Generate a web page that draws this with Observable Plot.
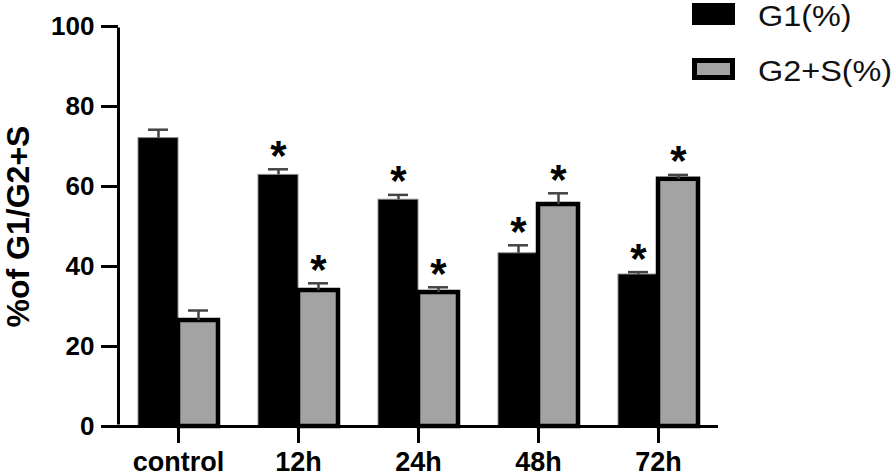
<!DOCTYPE html>
<html><head><meta charset="utf-8">
<script src="https://cdn.jsdelivr.net/npm/d3@7"></script>
<script src="https://cdn.jsdelivr.net/npm/@observablehq/plot@0.6"></script>
<style>
body{margin:0;background:#fff;font-family:"Liberation Sans",Arial,sans-serif;}
#wrap{position:relative;width:896px;height:476px;overflow:hidden;}
#wrap svg{position:absolute;left:0;top:0;}
.sw{position:absolute;left:692px;width:43px;height:22px;box-sizing:border-box;}
.lt{position:absolute;left:758px;font-size:30px;line-height:30px;color:#111;white-space:nowrap;transform:scaleX(1.08);transform-origin:left center;}
</style></head><body><div id="wrap"></div>
<script>
const categories = ["control", "12h", "24h", "48h", "72h"];
const series = ["G1(%)", "G2+S(%)"];
const g1 = [72.1, 62.9, 56.7, 43.3, 38.0];
const g1Err = [2.1, 1.4, 1.2, 2.0, 0.6];
const g2 = [26.5, 34.0, 33.5, 55.5, 61.8];
const g2Err = [2.5, 1.8, 1.3, 2.8, 1.1];
const g1Sig = [false, true, true, true, true];
const g2Sig = [false, true, true, true, true];
const yTicks = [0, 20, 40, 60, 80, 100];
const yLabel = "%of G1/G2+S";

const data = categories.flatMap((c, i) => [
  {cat: c, s: series[0], v: g1[i], e: g1Err[i], sig: g1Sig[i]},
  {cat: c, s: series[1], v: g2[i], e: g2Err[i], sig: g2Sig[i]}
]);
const font = '"Liberation Sans", Arial, sans-serif';
const W = 896, H = 476, ML = 118, MR = 178, MT = 26, MB = 50, TICK = 17;
const frameOpts = {width: W, height: H, marginLeft: ML, marginRight: MR, marginTop: MT, marginBottom: MB};
const clear = {fontFamily: font, color: "#000", background: "transparent"};

// bars (faceted by time point, one band per series inside each facet)
const bars = Plot.plot({
  ...frameOpts,
  style: {fontFamily: font, color: "#000", background: "#fff"},
  fx: {domain: categories, padding: 0, axis: null},
  x: {domain: series, paddingInner: 0, paddingOuter: 0.5, axis: null},
  y: {domain: [0, 100], axis: null},
  marks: [
    Plot.barY(data.filter(d => d.s === series[0]), {fx: "cat", x: "s", y: "v", fill: "#000", stroke: "#8a8a8a", strokeWidth: 1}),
    Plot.barY(data.filter(d => d.s === series[1]), {fx: "cat", x: "s", y: "v", fill: "#a3a3a3", stroke: "#000", strokeWidth: 4.5}),
    Plot.ruleX(data, {fx: "cat", x: "s", y1: "v", y2: d => d.v + d.e, stroke: "#444", strokeWidth: 2.5}),
    Plot.tickY(data, {fx: "cat", x: "s", y: d => d.v + d.e, insetLeft: 10, insetRight: 10, stroke: "#444", strokeWidth: 2.5}),
    Plot.text(data.filter(d => d.sig), {fx: "cat", x: "s", y: d => d.v + d.e, text: () => "*", fontSize: 42, fontWeight: "bold", lineAnchor: "middle", dy: -13})
  ]
});

// axis text + x axis line
const axes = Plot.plot({
  ...frameOpts,
  style: clear,
  x: {type: "band", domain: categories, padding: 0},
  y: {domain: [0, 100]},
  marks: [
    Plot.ruleY([0], {stroke: "#000", strokeWidth: 3}),
    Plot.axisY({ticks: yTicks, tickSize: 0, tickPadding: 24, fill: "#000", fontSize: 26, fontWeight: "bold", label: yLabel, labelAnchor: "center", labelArrow: "none", labelOffset: 112}),
    Plot.axisX({tickSize: 0, tickPadding: 25, fill: "#000", fontSize: 27, fontWeight: "bold", label: null})
  ]
});
const lab = axes.querySelector('g[aria-label="y-axis label"]');
if (lab) { lab.setAttribute("font-size", 32); lab.setAttribute("font-weight", "bold"); }

// y axis line and y tick marks: a thin strip left of the frame, same y scale
const yTickStrip = Plot.plot({
  width: W, height: H, marginLeft: ML - TICK, marginRight: W - ML, marginTop: MT, marginBottom: MB,
  style: clear,
  x: {domain: [0, 1], axis: null},
  y: {domain: [0, 100], axis: null},
  marks: [
    Plot.ruleY(yTicks, {x1: 0, x2: 1, stroke: "#000", strokeWidth: 3}),
    Plot.ruleX([1], {y1: 0, y2: 100, stroke: "#000", strokeWidth: 3, insetBottom: -1.5, insetTop: -1.5})
  ]
});

// x tick marks: a strip under the frame, same x band scale
const xTickStrip = Plot.plot({
  width: W, height: H, marginLeft: ML, marginRight: MR, marginTop: H - MB, marginBottom: MB - TICK,
  style: clear,
  x: {type: "band", domain: categories, padding: 0, axis: null},
  y: {domain: [0, 1], axis: null},
  marks: [
    Plot.ruleX(categories, {x: d => d, stroke: "#000", strokeWidth: 3})
  ]
});

const wrap = document.getElementById("wrap");
wrap.appendChild(bars);
wrap.appendChild(axes);
wrap.appendChild(yTickStrip);
wrap.appendChild(xTickStrip);
const legendItems = [
  {label: series[0], top: 3, style: "background:#000;"},
  {label: series[1], top: 58, style: "background:#a3a3a3;border:5px solid #000;"}
];
legendItems.forEach((it) => {
  const s = document.createElement("div");
  s.className = "sw"; s.style.cssText = `top:${it.top}px;` + it.style;
  wrap.appendChild(s);
  const t = document.createElement("div");
  t.className = "lt"; t.style.top = (it.top - 2) + "px"; t.textContent = it.label;
  wrap.appendChild(t);
});
</script></body></html>
